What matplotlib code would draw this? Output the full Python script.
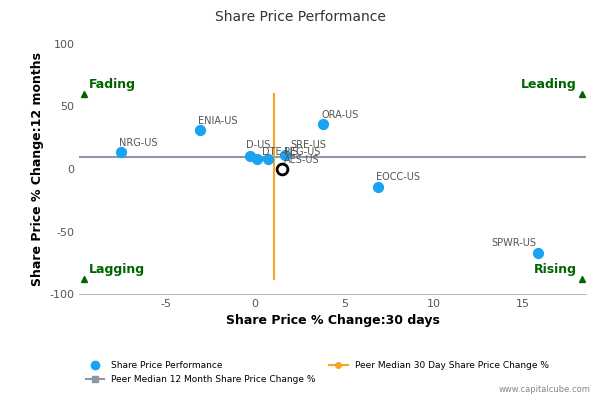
import matplotlib
matplotlib.use("Agg")
import matplotlib.pyplot as plt
from matplotlib.lines import Line2D

plt.rcParams["axes.unicode_minus"] = False

names = ["NRG-US", "ENIA-US", "ORA-US", "EOCC-US", "SPWR-US", "D-US", "DTE-US", "PEG-US", "SRE-US"]
x30 = [-7.5, -3.1, 3.8, 6.9, 15.85, -0.3, 0.1, 0.7, 1.7]
y12 = [13.5, 31, 36, -14, -67, 10.5, 8, 8, 11]
main_name = "AES-US"
main_x, main_y = 1.5, 0
med30 = 1.05
med12 = 9.5
xmin, xmax = -9.85, 18.55

fig = plt.figure(figsize=(6, 4), dpi=100)
ax = fig.add_axes([0.132, 0.265, 0.845, 0.625])
ax.set_xlim(xmin, xmax)
ax.set_ylim(-100, 100)

ax.plot([xmin, xmax], [med12, med12], color="#8e96a8", lw=1.5, zorder=1)
ax.plot([med30, med30], [-88, 60], color="#f5a623", lw=1.5, zorder=1)
ax.scatter(x30, y12, s=50, color="#1aa3f0", zorder=3)
ax.scatter([main_x], [main_y], s=60, facecolor="white", edgecolor="black", lw=2, zorder=4)

offsets = {"D-US": (-0.2, 6), "DTE-US": (0.3, 3), "PEG-US": (0.9, 3), "SRE-US": (0.3, 6),
           "SPWR-US": (-0.1, 5)}
for n, x, y in zip(names, x30, y12):
    dx, dy = offsets.get(n, (-0.1, 5))
    ha = "right" if n == "SPWR-US" else "left"
    ax.text(x + dx, y + dy, n, fontsize=7, color="#555555", ha=ha)
ax.text(main_x + 0.1, main_y + 4.5, main_name, fontsize=7, color="#555555")

green = "#006400"
for x, y, lab, ha, dy in [(-9.6, 60, "Fading", "left", 5), (18.3, 60, "Leading", "right", 5),
                          (-9.6, -88, "Lagging", "left", 5), (18.3, -88, "Rising", "right", 5)]:
    ax.plot(x, y, marker="^", color=green, ms=5)
    tx = x + 0.3 if ha == "left" else x - 0.3
    ax.text(tx, y + dy, lab, color=green, fontsize=9, fontweight="bold", ha=ha)

ax.set_xticks([-5, 0, 5, 10, 15])
ax.set_yticks([-100, -50, 0, 50, 100])
ax.tick_params(labelsize=8, colors="#555555", length=0)
for s in ["top", "right", "left"]:
    ax.spines[s].set_visible(False)
ax.spines["bottom"].set_color("#b0bcd0")
ax.set_xlabel("Share Price % Change:30 days", fontsize=9, fontweight="bold")
ax.set_ylabel("Share Price % Change:12 months", fontsize=9, fontweight="bold")
fig.suptitle("Share Price Performance", fontsize=10, y=0.975, color="#333333")

handles = [Line2D([], [], marker="o", ls="", color="#1aa3f0", ms=6),
           Line2D([], [], marker="s", color="#8e96a8", ms=4),
           Line2D([], [], marker="o", color="#f5a623", ms=4)]
labels = ["Share Price Performance", "Peer Median 12 Month Share Price Change %",
          "Peer Median 30 Day Share Price Change %"]
fig.legend(handles, labels, loc="lower left", bbox_to_anchor=(0.13, 0.02), ncol=2,
           fontsize=6.5, frameon=False, columnspacing=1.5, handlelength=2)
fig.text(0.985, 0.02, "www.capitalcube.com", fontsize=6, color="#888888", ha="right")

fig.savefig("out.png")
